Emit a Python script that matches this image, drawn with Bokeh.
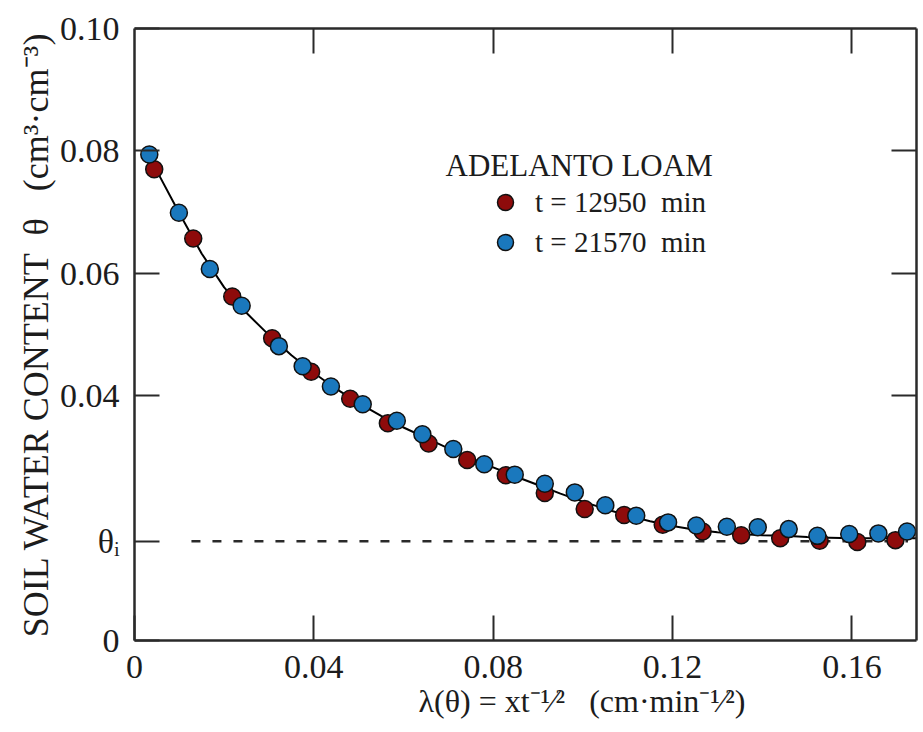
from bokeh.plotting import figure
from bokeh.models import Range1d, LinearAxis, FixedTicker, Label, Legend, LegendItem, Title
from bokeh.embed import file_html
from bokeh.resources import INLINE

# ---------------- data ----------------
lam_12950 = [0.0044, 0.0131, 0.0218, 0.0307, 0.0394, 0.0481, 0.0565, 0.0656, 0.0742, 0.0828,
             0.0915, 0.1004, 0.1092, 0.1178, 0.1267, 0.1353, 0.1440, 0.1528, 0.1612, 0.1697]
theta_12950 = [0.0770, 0.0657, 0.0562, 0.0494, 0.0439, 0.0395, 0.0355, 0.0322, 0.0295, 0.0270,
               0.0241, 0.0215, 0.0205, 0.0189, 0.0178, 0.0172, 0.0167, 0.0163, 0.0161, 0.0164]

lam_21570 = [0.0033, 0.0099, 0.0168, 0.0239, 0.0322, 0.0375, 0.0438, 0.0509, 0.0585, 0.0642,
             0.0711, 0.0780, 0.0848, 0.0915, 0.0982, 0.1050, 0.1119, 0.1190, 0.1253, 0.1321,
             0.1390, 0.1459, 0.1523, 0.1594, 0.1659, 0.1723]
theta_21570 = [0.0794, 0.0699, 0.0607, 0.0547, 0.0481, 0.0448, 0.0415, 0.0386, 0.0359, 0.0337,
               0.0313, 0.0288, 0.0271, 0.0256, 0.0242, 0.0221, 0.0204, 0.0193, 0.0188, 0.0186,
               0.0185, 0.0182, 0.0171, 0.0174, 0.0175, 0.0178]

fit_lam = [0.003, 0.005, 0.010, 0.015, 0.020, 0.025, 0.030, 0.035, 0.040, 0.045, 0.050,
           0.055, 0.060, 0.065, 0.070, 0.075, 0.080, 0.085, 0.090, 0.095, 0.100, 0.105,
           0.110, 0.115, 0.120, 0.125, 0.130, 0.135, 0.140, 0.145, 0.150, 0.155, 0.160,
           0.165, 0.170, 0.1745]
fit_theta = [0.0795, 0.0767, 0.0698, 0.0632, 0.0577, 0.0535, 0.0499, 0.0466, 0.0437, 0.0411,
             0.0388, 0.0367, 0.0348, 0.0331, 0.0314, 0.0298, 0.0283, 0.0268, 0.0254, 0.0240,
             0.0227, 0.0215, 0.0204, 0.0195, 0.0187, 0.0181, 0.0177, 0.0174, 0.0172, 0.0171,
             0.0169, 0.0168, 0.0167, 0.0167, 0.0167, 0.0167]

THETA_I = 0.0162
theta_i_lam = [0.0127, 0.1725]

x_ticks = [0, 0.04, 0.08, 0.12, 0.16]
x_tick_labels = ["0", "0.04", "0.08", "0.12", "0.16"]
y_ticks = [0, THETA_I, 0.04, 0.06, 0.08, 0.10]
y_tick_labels = ["0", "θᵢ", "0.04", "0.06", "0.08", "0.10"]
top_ticks = [0.04, 0.08, 0.12, 0.16]
right_ticks = [0.04, 0.06, 0.08]

NB = "\u00a0"
x_title = f"λ(θ){NB}={NB}xt⁻¹⁄²{NB}{NB}{NB}(cm·min⁻¹⁄²)"
y_title = f"SOIL WATER CONTENT{NB} θ{NB}{NB} (cm³·cm⁻³)"
series_labels = [f"t = 12950{NB} min", f"t = 21570{NB} min"]
legend_title = "ADELANTO LOAM"

# ---------------- styling ----------------
FONT = "Liberation Serif"
INK = "#1c1c1c"
RED = "#8e0b0b"
BLUE = "#1a78bd"

p = figure(width=923, height=732, x_range=Range1d(0, 0.1744), y_range=Range1d(0, 0.10),
           output_backend="svg", toolbar_location=None,
           x_axis_location=None, y_axis_location=None,
           min_border_left=134, min_border_right=7, min_border_top=28, min_border_bottom=92)
p.outline_line_color = None
p.background_fill_color = "white"
p.border_fill_color = "white"
p.grid.visible = False


def make_axis(ticks, labels, show):
    ax = LinearAxis(ticker=FixedTicker(ticks=ticks),
                    major_label_overrides={t: l for t, l in zip(ticks, labels)})
    ax.axis_line_color = "#2a2a2a"
    ax.axis_line_width = 2.5
    ax.major_tick_line_color = "#2a2a2a"
    ax.major_tick_line_width = 2
    ax.major_tick_in = 25
    ax.major_tick_out = 0
    ax.minor_tick_line_color = None
    ax.major_label_text_font = FONT
    ax.major_label_text_color = INK
    if show:
        ax.major_label_text_font_size = "34px"
    else:
        ax.major_label_text_font_size = "1px"
        ax.major_label_standoff = 0
    return ax


bottom = make_axis(x_ticks, x_tick_labels, True)
bottom.major_label_standoff = 15
left = make_axis(y_ticks, y_tick_labels, True)
left.major_label_standoff = 15
left.axis_label = y_title
left.axis_label_text_font = FONT
left.axis_label_text_font_size = "36px"
left.axis_label_text_font_style = "normal"
left.axis_label_text_color = INK
left.axis_label_standoff = 1
top = make_axis(top_ticks, [""] * len(top_ticks), False)
right = make_axis(right_ticks, [""] * len(right_ticks), False)
p.add_layout(bottom, "below")
p.add_layout(left, "left")
p.add_layout(top, "above")
p.add_layout(right, "right")

xt = Title(text=x_title, align="left", offset=284, standoff=0,
           text_font=FONT, text_font_size="32px", text_font_style="normal", text_color=INK)
p.add_layout(xt, "below")

# ---------------- marks ----------------
p.line(theta_i_lam, [THETA_I, THETA_I], line_color="#2a2a2a", line_width=2.5, line_dash="9 12")
p.line(fit_lam, fit_theta, line_color="black", line_width=2)
r1 = p.scatter(lam_12950, theta_12950, size=17, fill_color=RED, line_color="#111111", line_width=1.5)
r2 = p.scatter(lam_21570, theta_21570, size=17, fill_color=BLUE, line_color="#111111", line_width=1.5)

legend = Legend(items=[LegendItem(label=series_labels[0], renderers=[r1]),
                       LegendItem(label=series_labels[1], renderers=[r2])],
                location=(351, 378), padding=0, margin=0, spacing=-3,
                glyph_width=40, glyph_height=40, label_standoff=10,
                label_text_font=FONT, label_text_font_size="29px", label_text_color=INK,
                border_line_color=None, background_fill_alpha=0)
p.add_layout(legend)

p.add_layout(Label(text=legend_title, x=311, y=475, x_units="screen", y_units="screen",
                   text_font=FONT, text_font_size="31px", text_color=INK,
                   text_align="left", text_baseline="alphabetic"))

open("out.html", "w").write(file_html(p, INLINE))
